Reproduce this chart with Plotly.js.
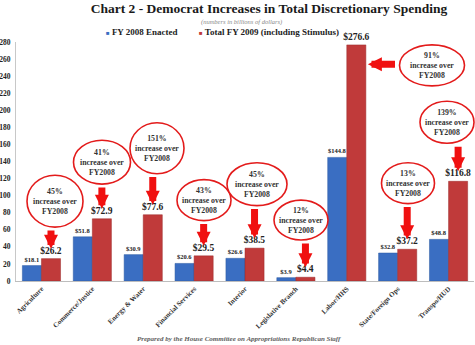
<!DOCTYPE html>
<html>
<head>
<meta charset="utf-8">
<script src="https://cdn.plot.ly/plotly-3.0.1.min.js"></script>
<style>html,body{margin:0;padding:0;background:#fff;}#chart{width:475px;height:345px;}</style>
</head>
<body>
<div id="chart"></div>
<script>
// ---- data ----
const categories = ['Agriculture','Commerce/Justice','Energy & Water','Financial Services','Interior','Legislative Branch','Labor/HHS','State/Foreign Ops','Transpo/HUD'];
const fy2008 = [18.1, 51.8, 30.9, 20.6, 26.6, 3.9, 144.8, 32.8, 48.8];
const fy2009 = [26.2, 72.9, 77.6, 29.5, 38.5, 4.4, 276.6, 37.2, 116.8];
const increasePct = ['45%','41%','151%','43%','45%','12%','91%','13%','139%'];
const seriesNames = ['FY 2008 Enacted','Total FY 2009 (including Stimulus)'];
const yTickVals = [0,20,40,60,80,100,120,140,160,180,200,220,240,260,280];

// ---- layout config ----
const W = 475, H = 345;
const M = {l:16, r:1, t:41.6, b:64};
const PW = W - M.l - M.r, PH = H - M.t - M.b;
const plotBottom = H - M.b;
const pxScale = PH / 280;
const FONT = 'Liberation Serif, DejaVu Serif, serif';
const BLUE = '#3a6ec2', RED = '#c03a3a', ARROW = '#f01010';

// callout boxes (pixel centre / size) for each category
const callouts = [
  {cx:55,  cy:201, w:56, h:52},
  {cx:102, cy:162, w:57, h:44},
  {cx:157, cy:148, w:54, h:51},
  {cx:204, cy:200, w:54, h:41},
  {cx:257, cy:184, w:60, h:43},
  {cx:301, cy:220, w:54, h:40},
  {cx:432, cy:65,  w:65, h:41, dir:'left'},
  {cx:408, cy:183, w:53, h:41},
  {cx:447, cy:122, w:54, h:42}
];

const px2paperX = px => (px - M.l) / PW;
const px2paperY = py => (plotBottom - py) / PH;
const bandPx = PW / categories.length;

const traces = [
  {type:'bar', name:seriesNames[0], x:categories, y:fy2008,
   marker:{color:BLUE, line:{color:'#2d5aa0', width:0.5}},
   texttemplate:'$%{y:.1f}', textposition:'outside', cliponaxis:false, constraintext:'none',
   textfont:{family:FONT, size:6.5, weight:700, color:'#222'}},
  {type:'bar', name:seriesNames[1], x:categories, y:fy2009,
   marker:{color:RED, line:{color:'#9a2a2a', width:0.5}},
   texttemplate:'$%{y:.1f}', textposition:'outside', cliponaxis:false, constraintext:'none',
   textfont:{family:FONT, size:9.5, weight:700, color:'#222'}}
];

const shapes = [];
const annotations = [];

callouts.forEach((c, i) => {
  shapes.push({type:'circle', xref:'paper', yref:'paper',
    x0:px2paperX(c.cx - c.w/2), x1:px2paperX(c.cx + c.w/2),
    y0:px2paperY(c.cy + c.h/2), y1:px2paperY(c.cy - c.h/2),
    line:{color:'#e31b1b', width:1.6}, fillcolor:'#fff', layer:'above'});
  annotations.push({xref:'paper', yref:'paper', x:px2paperX(c.cx), y:px2paperY(c.cy),
    text:increasePct[i] + '<br>increase over<br>FY2008', showarrow:false, xanchor:'center', yanchor:'middle',
    font:{family:FONT, size:7.8, weight:700, color:'#333'}});
  if (c.dir === 'left') {
    const tipX = M.l + (i + 0.5) * bandPx + 0.375 * bandPx + 2;
    const tailX = c.cx - c.w/2 - 3;
    annotations.push({xref:'x', yref:'paper', x:i + 0.375, y:px2paperY(c.cy - 1), xshift:2,
      text:'', showarrow:true, arrowhead:2, arrowsize:0.4, arrowwidth:7, arrowcolor:ARROW,
      ax:tailX - tipX, ay:0});
  } else {
    const tipPy = plotBottom - fy2009[i] * pxScale - 10;
    const tailPy = c.cy + c.h/2 + 2;
    annotations.push({xref:'x', yref:'y', x:i + 0.1875, y:fy2009[i], yshift:10,
      text:'', showarrow:true, arrowhead:2, arrowsize:0.4, arrowwidth:7, arrowcolor:ARROW,
      ax:0, ay:tailPy - tipPy});
  }
});

// subtitle
annotations.push({xref:'paper', yref:'paper', x:px2paperX(241), y:px2paperY(21.5), text:'(numbers in billions of dollars)',
  showarrow:false, xanchor:'center', yanchor:'middle', font:{family:FONT, size:6.5, style:'italic', color:'#8a8a8a'}});
// legend
[[104, BLUE, seriesNames[0]], [197, RED, seriesNames[1]]].forEach(([x, col, name]) => {
  annotations.push({xref:'paper', yref:'paper', x:px2paperX(x), y:px2paperY(31.5),
    text:'<span style="color:' + col + ';font-size:6px">■</span> ' + name,
    showarrow:false, xanchor:'left', yanchor:'middle', font:{family:FONT, size:9, weight:700, color:'#222'}});
});
// footer
annotations.push({xref:'paper', yref:'paper', x:px2paperX(239), y:px2paperY(339),
  text:'Prepared by the House Committee on Appropriations Republican Staff',
  showarrow:false, xanchor:'center', yanchor:'middle', font:{family:FONT, size:7, weight:700, style:'italic', color:'#606060'}});

const layout = {
  width:W, height:H, margin:M, paper_bgcolor:'#fff', plot_bgcolor:'#fff',
  showlegend:false, barmode:'group', bargap:0.25, bargroupgap:0,
  title:{text:'Chart 2 - Democrat Increases in Total Discretionary Spending',
    font:{family:FONT, size:13.5, weight:700, color:'#1a1a1a'},
    x:269/W, xanchor:'center', xref:'container', y:1 - 8.5/H, yanchor:'middle', yref:'container'},
  xaxis:{type:'category', tickangle:-45, showgrid:false, showline:true, linecolor:'#bdbdbd', linewidth:1,
    ticks:'', automargin:false, tickfont:{family:FONT, size:7, weight:700, color:'#333'}},
  yaxis:{range:[0,280], tickvals:yTickVals, showgrid:false, zeroline:false, showline:true, linecolor:'#c8c8c8',
    linewidth:1, ticks:'', automargin:false, ticklabelstandoff:3,
    tickfont:{family:FONT, size:7.5, weight:700, color:'#222'}},
  shapes:shapes, annotations:annotations
};

Plotly.newPlot('chart', traces, layout, {staticPlot:true, displayModeBar:false});
</script>
</body>
</html>
